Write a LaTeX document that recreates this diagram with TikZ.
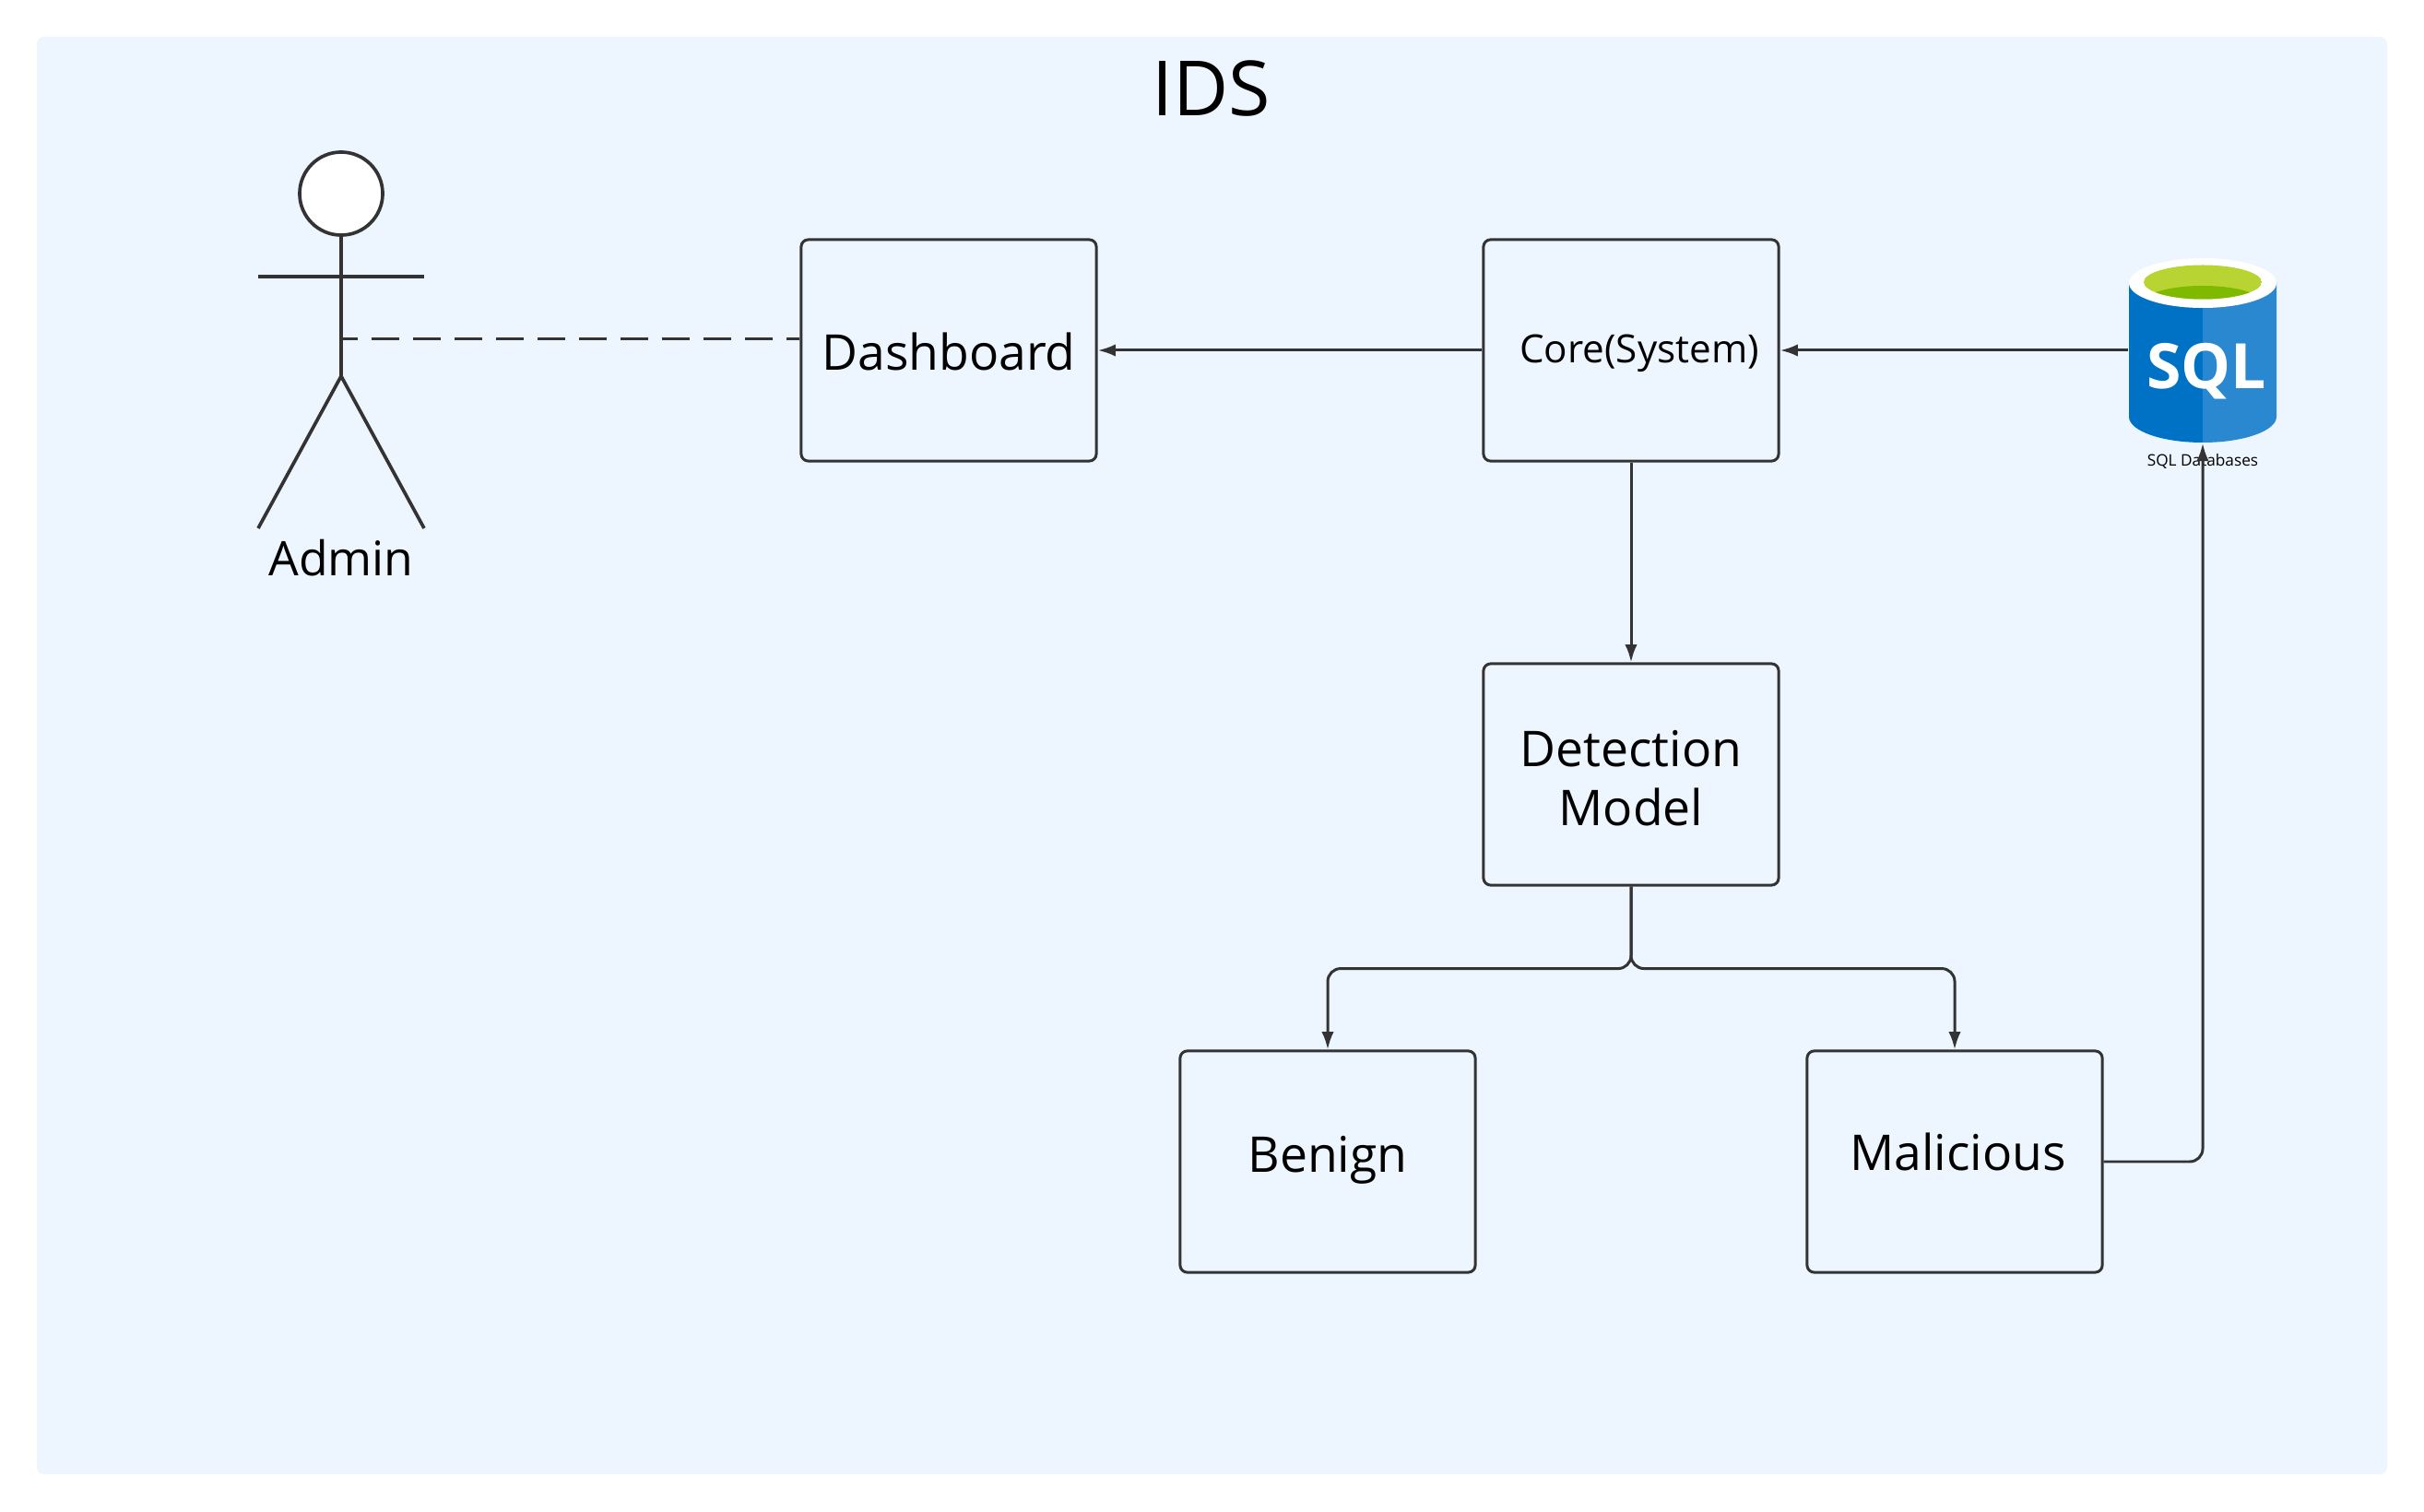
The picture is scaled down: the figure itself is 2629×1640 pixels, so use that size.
\documentclass[tikz,border=0pt]{standalone}
\usepackage{fontspec}
\usepackage{tikz}
\usetikzlibrary{arrows.meta}
\setmainfont{Open Sans}

\definecolor{panelblue}{HTML}{EDF5FF}
\definecolor{linegray}{HTML}{333333}
\definecolor{sqlblue}{HTML}{0072C6}
\definecolor{sqllight}{HTML}{2A88D0}
\definecolor{sqlgreen}{HTML}{B8D432}
\definecolor{sqldeep}{HTML}{7FBA00}

\newcommand{\drop}[2]{\raisebox{-#1}[0pt][0pt]{#2}}

\begin{document}
\begin{tikzpicture}[x=0.01cm,y=-0.01cm,
    blockbox/.style={draw=linegray,line width=0.85pt,rounded corners=2.2pt,minimum width=3.2cm,minimum height=2.4cm,inner sep=0pt,align=center,font=\fontsize{15.2}{18.3}\selectfont},
    flow/.style={draw=linegray,line width=0.85pt,rounded corners=4pt,-{Latex[length=5.5pt,width=3.8pt]}},
    stick/.style={draw=linegray,line width=1.05pt}]
    \useasboundingbox (0,0) rectangle (2629,1640);
    \fill[white] (0,0) rectangle (2629,1640);
    \fill[panelblue,rounded corners=2.2pt] (40,40) rectangle (2589,1599);
    \node[font=\fontsize{23.5}{28}\selectfont] (title) at (1314,96) {IDS};

    % actor
    \node[stick,circle,fill=white,minimum size=0.9cm,inner sep=0pt] (head) at (370,210) {};
    \coordinate (hip) at (370,408);
    \coordinate (waist) at (370,368);
    \coordinate (armL) at (280,300);
    \coordinate (armR) at (460,300);
    \coordinate (legL) at (280,573);
    \coordinate (legR) at (460,573);
    \draw[stick] (head) -- (hip);
    \draw[stick] (armL) -- (armR);
    \draw[stick] (legL) -- (hip) -- (legR);
    \node[font=\fontsize{14.7}{18}\selectfont] (admin) at (370,605) {Admin};

    % boxes
    \node[blockbox] (dashboard) at (1029,380) {\drop{6.07pt}{Dashboard}};
    \node[blockbox,font=\fontsize{12}{14}\selectfont] (core) at (1769,380) {\hspace{5.1pt}\drop{3.8pt}{Core(System)}};
    \node[blockbox] (detection) at (1769,840) {\rule{0pt}{13.6pt}Detection\\Model};
    \node[blockbox] (benign) at (1440,1260) {\drop{3.4pt}{Benign}};
    \node[blockbox] (malicious) at (2120,1260) {\hspace{2pt}\drop{2.56pt}{Malicious}};

    % database
    \node[minimum width=1.6cm,minimum height=2cm,inner sep=0pt] (sqlicon) at (2389,380) {};
    \fill[sqlblue] (2309,307) -- (2309,452) arc[start angle=180,end angle=90,x radius=80,y radius=28] -- (2389,307) -- cycle;
    \fill[sqllight] (2469,307) -- (2469,452) arc[start angle=0,end angle=90,x radius=80,y radius=28] -- (2389,307) -- cycle;
    \fill[white] (2389,307) ellipse[x radius=80,y radius=27];
    \begin{scope}
      \clip (2389,306) ellipse[x radius=64,y radius=18.5];
      \fill[sqlgreen] (2389,306) ellipse[x radius=64,y radius=18.5];
      \fill[sqldeep] (2389,328) ellipse[x radius=64,y radius=18];
    \end{scope}
    \node[white,font=\fontsize{19.3}{22}\selectfont\bfseries] (sqltext) at (2393,398) {\drop{6.8pt}{SQL}};
    \node[font=\fontsize{4.9}{6}\selectfont] (sqllabel) at (2389,500) {SQL Databases};

    % connectors
    \draw[draw=linegray,line width=0.85pt,dash pattern=on 8.5pt off 4.3pt,dash phase=3.4pt] (waist) -- (waist -| dashboard.west);
    \draw[flow] (core) -- (dashboard);
    \draw[flow] (sqlicon) -- (core);
    \draw[flow] (core) -- (detection);
    \draw[flow] (detection.south) -- ++(0,89) -| (benign.north);
    \draw[flow] (detection.south) -- ++(0,89) -| (malicious.north);
    \draw[flow] (malicious.east) -| (sqlicon.south);
\end{tikzpicture}
\end{document}
